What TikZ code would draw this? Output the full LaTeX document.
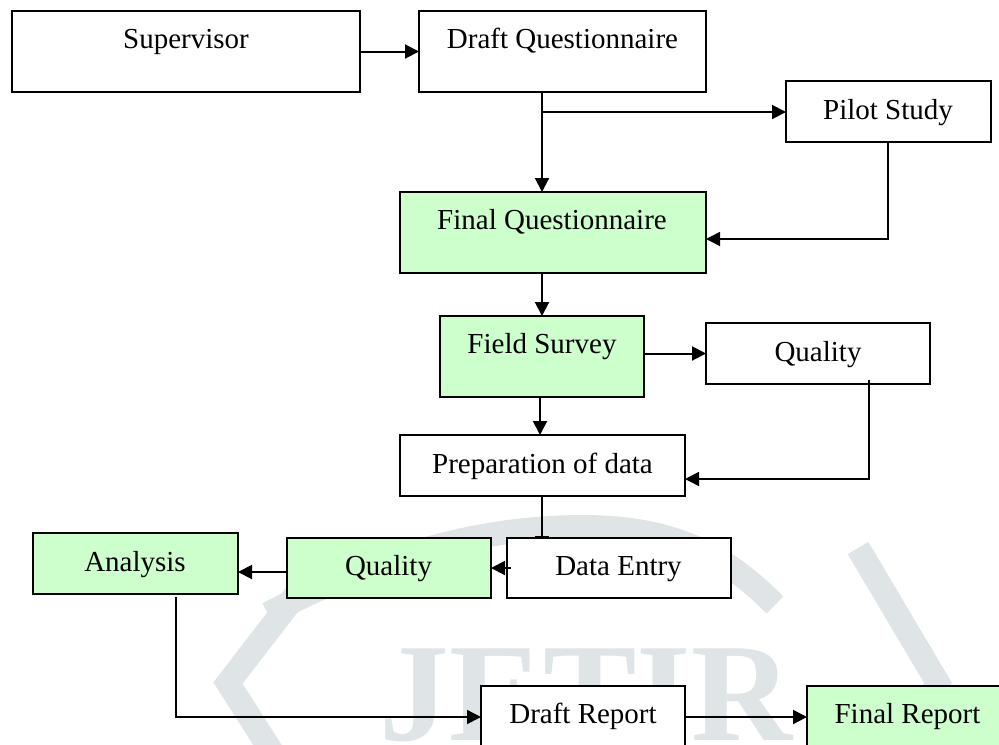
\documentclass[tikz,border=0pt]{standalone}
\usepackage{fontspec}
\setmainfont{Liberation Serif}
\usetikzlibrary{arrows.meta}
\definecolor{boxgreen}{HTML}{CCFFCC}
\definecolor{wmgray}{HTML}{DFE4E7}
\tikzset{
  box/.style={draw=black, line width=1pt, inner sep=0pt, outer sep=0pt, fill=white},
  gbox/.style={box, fill=boxgreen},
  txt/.style={inner sep=0pt, outer sep=0pt, anchor=base, font=\fontsize{21.75}{26}\selectfont},
  arr/.style={line width=1.5pt, -{Triangle[length=10.5pt,width=10.5pt]}},
  thinarr/.style={line width=1.1pt, -{Triangle[length=10.5pt,width=10.5pt]}},
  wm/.style={draw=wmgray, line width=18pt, line join=miter}
}
\begin{document}
\begin{tikzpicture}[x=0.75pt,y=-0.75pt]
\useasboundingbox (0,0) rectangle (999,744);
% watermark
\draw[wm] (277,760) -- (228,683) -- (298,592);
\draw[wm] (268,614) .. controls (380,555) and (480,527) .. (583,527) .. controls (680,527) and (730,560) .. (775,605);
\draw[wm] (858,548) -- (938,683) -- (893,760);
\node[inner sep=0pt, anchor=base, text=wmgray, font=\fontsize{105}{115}\selectfont\bfseries] (wmT) at (586,740) {JETIR};
% boxes
\node[box, minimum width=348*0.75pt, minimum height=81*0.75pt] (sup) at (186,51.5) {};
\node[box, minimum width=287*0.75pt, minimum height=81*0.75pt] (dq) at (562.5,51.5) {};
\node[box, minimum width=205*0.75pt, minimum height=61*0.75pt] (ps) at (888.5,111.5) {};
\node[gbox, minimum width=306*0.75pt, minimum height=81*0.75pt] (fq) at (553,232.5) {};
\node[gbox, minimum width=204*0.75pt, minimum height=81*0.75pt] (fs) at (542,356.5) {};
\node[box, minimum width=224*0.75pt, minimum height=61*0.75pt] (q1) at (818,353.5) {};
\node[box, minimum width=285*0.75pt, minimum height=61*0.75pt] (prep) at (542.5,465.5) {};
\node[box, minimum width=224*0.75pt, minimum height=60*0.75pt] (de) at (619,568) {};
\node[gbox, minimum width=204*0.75pt, minimum height=60*0.75pt] (q2) at (389,568) {};
\node[gbox, minimum width=205*0.75pt, minimum height=61*0.75pt] (an) at (135.5,563.5) {};
\node[box, minimum width=204*0.75pt, minimum height=62*0.75pt] (dr) at (583,717) {};
\node[gbox, minimum width=210*0.75pt, minimum height=62*0.75pt] (fr) at (912,717) {};
% texts
\node[txt] (supT) at (186,48) {Supervisor};
\node[txt] (dqT) at (562.5,48) {Draft Questionnaire};
\node[txt] (psT) at (888,119) {Pilot Study};
\node[txt] (fqT) at (552,229) {Final Questionnaire};
\node[txt] (fsT) at (542,353) {Field Survey};
\node[txt] (q1T) at (818,361) {Quality};
\node[txt] (prepT) at (542.5,473) {Preparation of data};
\node[txt] (deT) at (618.5,575) {Data Entry};
\node[txt] (q2T) at (388.5,575) {Quality};
\node[txt] (anT) at (135,571) {Analysis};
\node[txt] (drT) at (583,723) {Draft Report};
\node[txt] (frT) at (907.5,723) {Final Report};
% connector points
\coordinate (c1) at (542,112);
\coordinate (k1) at (888,239);
\coordinate (k2) at (869,479);
\coordinate (k3) at (176,717);
\coordinate (k4) at (176,597);
\coordinate (k5) at (287,572);
\coordinate (k6) at (869,380);
% connectors
\draw[arr] (sup.east) -- (dq.west);
\draw[arr] (dq.south -| c1) -- (fq.north -| c1);
\draw[arr] (c1) -- (c1 -| ps.west);
\draw[thinarr] (ps.south -| k1) -- (k1) -- (k1 -| fq.east);
\draw[arr] (fq.south -| fs.north) -- (fs.north);
\draw[arr] (fs.east |- q1.west) -- (q1.west);
\draw[arr] (fs.south -| 540,0) -- (prep.north -| 540,0);
\draw[thinarr] (k6) -- (k2) -- (k2 -| prep.east);
\draw[line width=1.5pt, -{Bar[width=10pt]}] (prep.south -| c1) -- (de.north -| c1);
\draw[arr] ([xshift=3pt]de.west) -- (q2.east);
\draw[arr] (k5) -- (k5 -| an.east);
\draw[thinarr] (k4) -- (k3) -- (k3 -| dr.west);
\draw[arr] (dr.east) -- (fr.west);
\end{tikzpicture}
\end{document}
